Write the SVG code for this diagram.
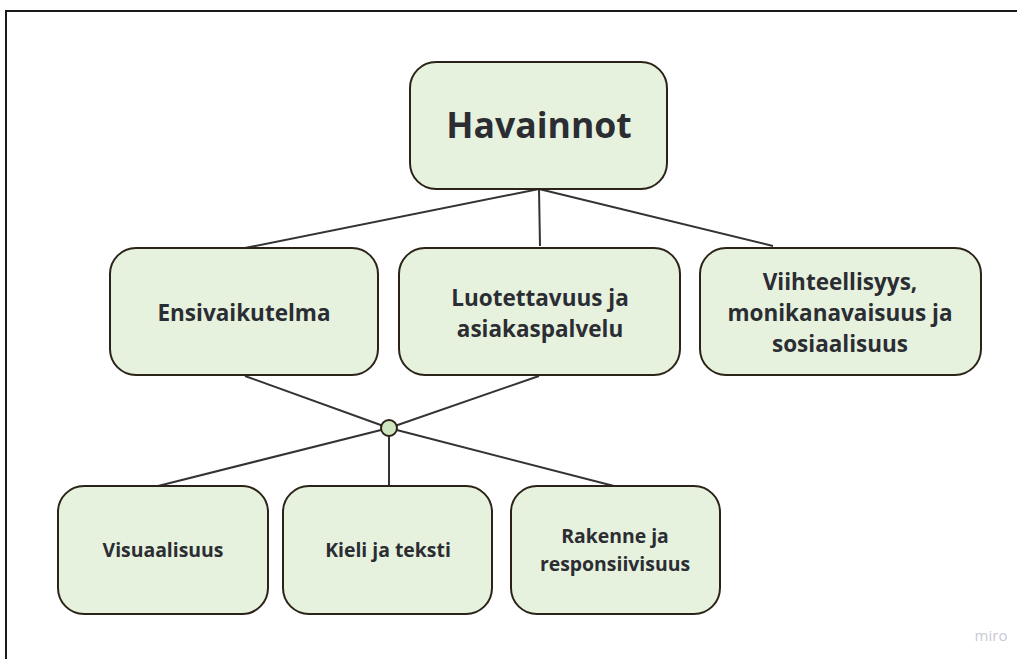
<svg xmlns="http://www.w3.org/2000/svg" width="1017" height="659" viewBox="0 0 1017 659">
<style>
.node{fill:#e6f2de;stroke:#2b2318;stroke-width:2}
.t{font-family:"Open Sans","Liberation Sans",sans-serif;font-weight:bold;fill:#2b2d33;text-anchor:middle}
.m{font-size:22.5px}
.s{font-size:19.4px}
.c{stroke:#333333;stroke-width:2;fill:none}
</style>
<rect x="0" y="0" width="1017" height="659" fill="#ffffff"/>
<rect x="6" y="11" width="1030" height="670" fill="none" stroke="#1a1a1a" stroke-width="2"/>
<g id="connectors">
<line class="c" x1="539" y1="189" x2="245" y2="248"/>
<line class="c" x1="539" y1="189" x2="540" y2="246"/>
<line class="c" x1="539" y1="189" x2="773" y2="246"/>
<line class="c" x1="245" y1="376" x2="389" y2="428"/>
<line class="c" x1="539" y1="376" x2="389" y2="428"/>
<line class="c" x1="389" y1="428" x2="158" y2="486"/>
<line class="c" x1="389" y1="428" x2="389" y2="486"/>
<line class="c" x1="389" y1="428" x2="614" y2="486"/>
</g>
<g id="junction"><circle cx="389" cy="428" r="8" fill="#cfe6c0" stroke="#2b2318" stroke-width="2"/></g>
<g id="havainnot"><rect class="node" x="410" y="62" width="257" height="127" rx="26"/><text class="t" x="539" y="138" font-size="35.6">Havainnot</text></g>
<g id="ensivaikutelma"><rect class="node" x="110" y="248" width="268" height="127" rx="26"/><text class="t m" x="244" y="321">Ensivaikutelma</text></g>
<g id="luotettavuus"><rect class="node" x="399" y="248" width="281" height="127" rx="26"/><text class="t m" x="540" y="306">Luotettavuus ja</text><text class="t m" x="540" y="337">asiakaspalvelu</text></g>
<g id="viihteellisyys"><rect class="node" x="700" y="248" width="281" height="127" rx="26"/><text class="t m" x="840" y="290">Viihteellisyys,</text><text class="t m" x="840" y="321">monikanavaisuus ja</text><text class="t m" x="840" y="352">sosiaalisuus</text></g>
<g id="visuaalisuus"><rect class="node" x="58" y="486" width="210" height="128" rx="26"/><text class="t s" x="163" y="557">Visuaalisuus</text></g>
<g id="kieli"><rect class="node" x="283" y="486" width="209" height="128" rx="26"/><text class="t s" x="388" y="557">Kieli ja teksti</text></g>
<g id="rakenne"><rect class="node" x="511" y="486" width="209" height="128" rx="26"/><text class="t s" x="615" y="543">Rakenne ja</text><text class="t s" x="615" y="571">responsiivisuus</text></g>
<text x="991" y="641" font-family="Open Sans, Liberation Sans, sans-serif" font-size="15" fill="#c9c9d6" text-anchor="middle">miro</text>
</svg>
